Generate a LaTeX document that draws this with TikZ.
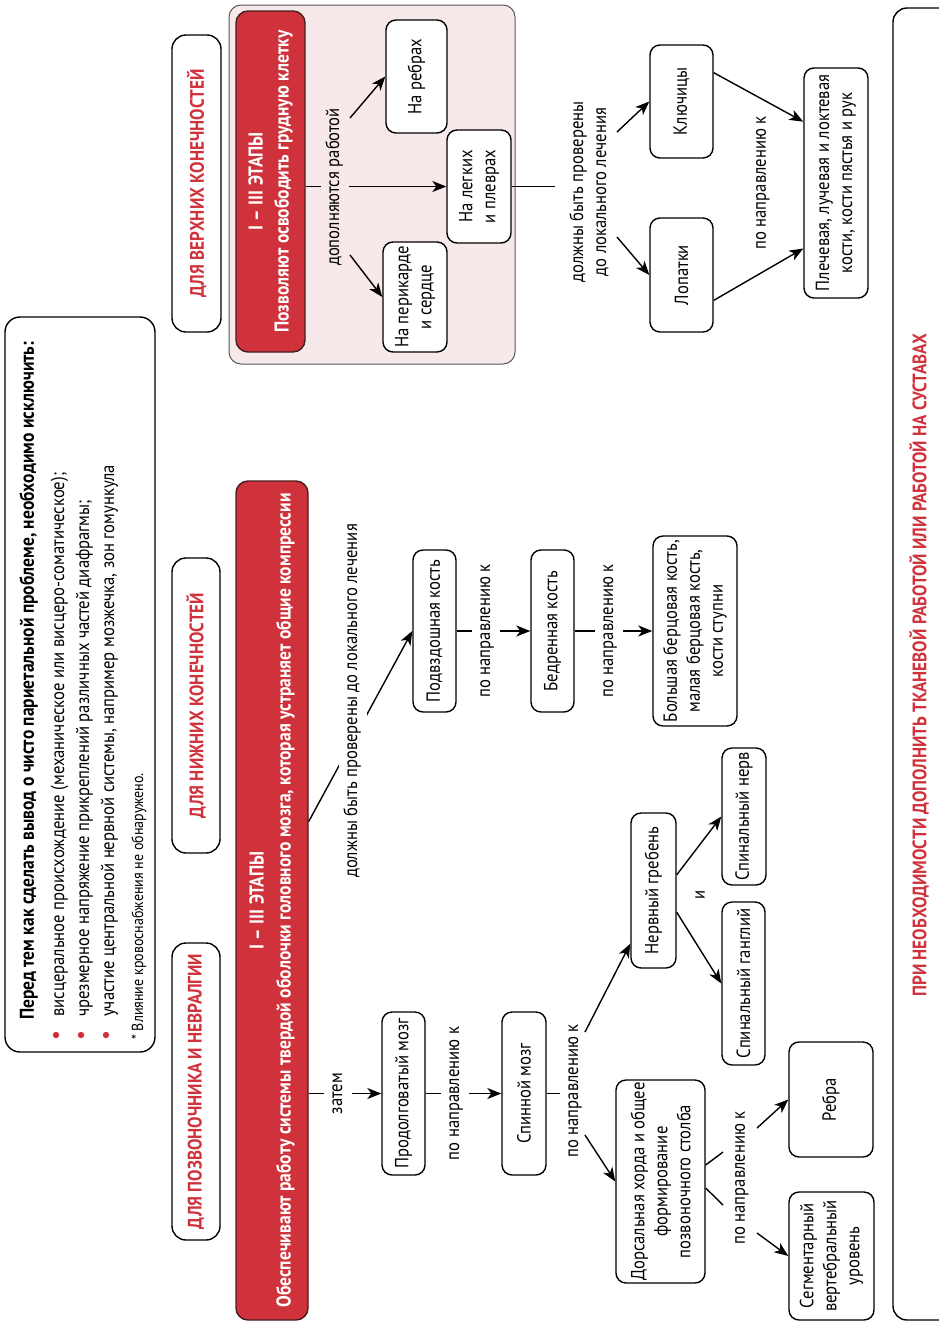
\documentclass[tikz,border=0pt]{standalone}
\usepackage{fontspec}
\setmainfont{PT Sans}[FakeStretch=0.875]
\usetikzlibrary{arrows.meta,calc}
\definecolor{rd}{RGB}{208,50,60}
\definecolor{pinkbg}{RGB}{247,233,233}
\definecolor{rdline}{RGB}{70,30,30}
\newcommand{\fs}{\fontsize{19}{23}\selectfont}
\newcommand{\fbig}{\fontsize{19.5}{23}\selectfont\bfseries}
\newcommand{\fred}{\fontsize{20}{24}\selectfont\bfseries}
\begin{document}
\begin{tikzpicture}[x=1pt,y=-1pt,
  bx/.style={draw, line width=1.4pt, rounded corners=10pt, rotate=90, align=center, inner sep=0pt, fill=white, font=\fs},
  lab/.style={rotate=90, fill=white, inner xsep=3pt, inner ysep=6pt, text height=12pt, text depth=4pt, font=\fs},
  lab2/.style={rotate=90, inner sep=0pt, align=center, font=\fs},
  arr/.style={line width=1.4pt, -{Stealth[length=14pt,width=11pt,inset=4pt]}},
  ln/.style={line width=1.4pt},
  tagbox/.style={draw, line width=1.4pt, rounded corners=14pt, rotate=90, fill=white, text=rd, font=\fbig, inner sep=0pt},
  redbox/.style={draw=rdline, line width=1.4pt, fill=rd, rounded corners=12pt, rotate=90, align=center, text=white, font=\fred, inner sep=0pt},
  txt/.style={rotate=90, inner sep=0pt, anchor=base west},
]
\useasboundingbox (0,0) rectangle (939,1323);
\clip (0,0) rectangle (939,1323);

% ---------- info box ----------
\node[draw, line width=1.4pt, rounded corners=15pt, rotate=90, minimum width=735pt, minimum height=150pt, inner sep=0pt] (info) at (80,684.5) {};
\node[txt, font=\fontsize{20}{24}\selectfont\bfseries] (infoh) at (34,1020) {Перед тем как сделать вывод о чисто париетальной проблеме, необходимо исключить:};
\node[txt, font=\fs] (info1) at (64,1017) {висцеральное происхождение (механическое или висцеро-соматическое);};
\node[txt, font=\fs] (info2) at (89,1017) {чрезмерное напряжение прикреплений различных частей диафрагмы;};
\node[txt, font=\fs] (info3) at (114,1017) {участие центральной нервной системы, например мозжечка, зон гомункула};
\node[txt, font=\fontsize{16}{19}\selectfont] (infof) at (143,1040) {* Влияние кровоснабжения не обнаружено.};
\fill[rd] (56,1035) circle (3.2pt);
\fill[rd] (81,1035) circle (3.2pt);
\fill[rd] (106,1035) circle (3.2pt);

% ---------- column tags ----------
\node[tagbox, minimum width=297pt, minimum height=48pt] (tagS) at (196,1091.5) {ДЛЯ ПОЗВОНОЧНИКА И НЕВРАЛГИИ};
\node[tagbox, minimum width=295pt, minimum height=48pt] (tagL) at (196,705.5) {ДЛЯ НИЖНИХ КОНЕЧНОСТЕЙ};
\node[tagbox, minimum width=297pt, minimum height=49pt] (tagU) at (196.5,183.5) {ДЛЯ ВЕРХНИХ КОНЕЧНОСТЕЙ};

% ---------- right side box ----------
\node[draw, line width=1.4pt, rounded corners=14pt, minimum width=62pt, minimum height=1312pt, inner sep=0pt] (side) at (924,664) {};
\node[rotate=90, text=rd, font=\fbig, inner sep=0pt] (sidet) at (919,665) {ПРИ НЕОБХОДИМОСТИ ДОПОЛНИТЬ ТКАНЕВОЙ РАБОТОЙ ИЛИ РАБОТОЙ НА СУСТАВАХ};

% ---------- upper part ----------
\node[draw=black!65, line width=1pt, fill=pinkbg, rounded corners=12pt, minimum width=286pt, minimum height=359pt, inner sep=0pt] (panel) at (372,184.5) {};
\node[redbox, minimum width=341pt, minimum height=69pt] (redU) at (270.5,181.5) {I – III ЭТАПЫ\\[2pt]Позволяют освободить грудную клетку};
\node[bx, minimum width=113pt, minimum height=61pt] (ribs) at (416.5,76.5) {На ребрах};
\node[bx, minimum width=113pt, minimum height=64pt] (lungs) at (479,186.5) {На легких\\и плеврах};
\node[bx, minimum width=110pt, minimum height=64pt] (heart) at (415,297) {На перикарде\\и сердце};
\node[bx, minimum width=113pt, minimum height=63pt] (clav) at (681.5,101.5) {Ключицы};
\node[bx, minimum width=114pt, minimum height=63pt] (scap) at (681.5,275) {Лопатки};
\node[bx, minimum width=230pt, minimum height=64pt] (arm) at (836,183) {Плечевая, лучевая и локтевая\\кости, кости пястья и рук};

\draw[arr] (lungs.north -| redU.south) -- (lungs.north);
\node[lab, fill=pinkbg] (dop) at (335,187) {дополняются работой};
\coordinate (dopT) at (350,118);
\coordinate (dopB) at (350,255);
\draw[arr] (dopT) -- (ribs.north);
\draw[arr] (dopB) -- (heart.north);
\coordinate (chkUin) at (555,186.5);
\draw[ln] (lungs.south) -- (chkUin);
\node[lab2] (chkU) at (589,192) {должны быть проверены\\до локального лечения};
\coordinate (chkUt) at (617,132);
\coordinate (chkUb) at (617,237);
\draw[arr] (chkUt) -- (clav.north);
\draw[arr] (chkUb) -- (scap.north);
\draw[arr] ($(clav.south west)!0.752!(clav.south east)$) -- ($(arm.north west)!0.765!(arm.north east)$);
\draw[arr] ($(scap.south west)!0.28!(scap.south east)$) -- ($(arm.north west)!0.217!(arm.north east)$);
\node[lab2] (dirU) at (763,183) {по направлению к};

% ---------- lower red box ----------
\node[redbox, minimum width=839pt, minimum height=72pt] (redL) at (272,900.5) {I – III ЭТАПЫ\\[3pt]Обеспечивают работу системы твердой оболочки головного мозга, которая устраняет общие компрессии};

% ---------- legs ----------
\node[bx, minimum width=162pt, minimum height=43pt] (ilium) at (434.5,631) {Подвздошная кость};
\node[bx, minimum width=162pt, minimum height=43pt] (femur) at (552.5,631) {Бедренная кость};
\node[bx, minimum width=190pt, minimum height=84pt] (tibia) at (695,631) {Большая берцовая кость,\\малая берцовая кость,\\кости ступни};
\draw[arr] ($(redL.south west)!0.594!(redL.south east)$) -- (ilium.north);
\node[lab] (chkL) at (353,701) {должны быть проверены до локального лечения};
\draw[arr] (ilium.south) -- (femur.north);
\node[lab] (dirL1) at (486,631) {по направлению к};
\draw[arr] (femur.south) -- (tibia.north);
\node[lab] (dirL2) at (609,631) {по направлению к};

% ---------- spine ----------
\node[bx, minimum width=163pt, minimum height=43pt] (medulla) at (403.5,1093.5) {Продолговатый мозг};
\node[bx, minimum width=163pt, minimum height=44pt] (spinal) at (524,1093.5) {Спинной мозг};
\node[bx, minimum width=155pt, minimum height=45pt] (crest) at (653.5,890.5) {Нервный гребень};
\node[bx, minimum width=137pt, minimum height=44pt] (nerve) at (744,816.5) {Спинальный нерв};
\node[bx, minimum width=163pt, minimum height=43pt] (gang) at (743.5,983.5) {Спинальный ганглий};
\node[bx, minimum width=203pt, minimum height=89pt] (dors) at (660.5,1181.5) {Дорсальная хорда и общее\\формирование\\позвоночного столба};
\node[bx, minimum width=115pt, minimum height=84pt] (rebra) at (831,1099.5) {Ребра};
\node[bx, minimum width=128pt, minimum height=85pt] (segm) at (831.5,1256) {Сегментарный\\вертебральный\\уровень};

\draw[arr] (medulla.north -| redL.south) -- (medulla.north);
\node[lab] (zatem) at (338,1093.5) {затем};
\draw[arr] (medulla.south) -- (spinal.north);
\node[lab] (dirS1) at (455,1093.5) {по направлению к};
\node[lab] (dirS2) at (574,1091) {по направлению к};
\draw[ln] (spinal.south) -- (spinal.south -| dirS2.north);
\coordinate (s2t) at (585,1032);
\coordinate (s2b) at (585,1135);
\draw[arr] (s2t) -- ($(crest.north west)!0.16!(crest.north east)$);
\draw[arr] (s2b) -- (dors.north);
\draw[arr] ($(crest.south west)!0.6!(crest.south east)$) -- (nerve.north);
\draw[arr] ($(crest.south west)!0.361!(crest.south east)$) -- (gang.north);
\node[lab2] (andl) at (700,895) {и};
\coordinate (f1) at (723,1152);
\coordinate (f2) at (723,1205);
\draw[ln] ($(dors.south west)!0.581!(dors.south east)$) -- (f1);
\draw[ln] ($(dors.south west)!0.468!(dors.south east)$) -- (f2);
\node[lab2] (dirD) at (742,1178) {по направлению к};
\coordinate (d1) at (757,1128);
\coordinate (d2) at (757,1233);
\draw[arr] (d1) -- (rebra.north);
\draw[arr] (d2) -- (segm.north);
\end{tikzpicture}
\end{document}
